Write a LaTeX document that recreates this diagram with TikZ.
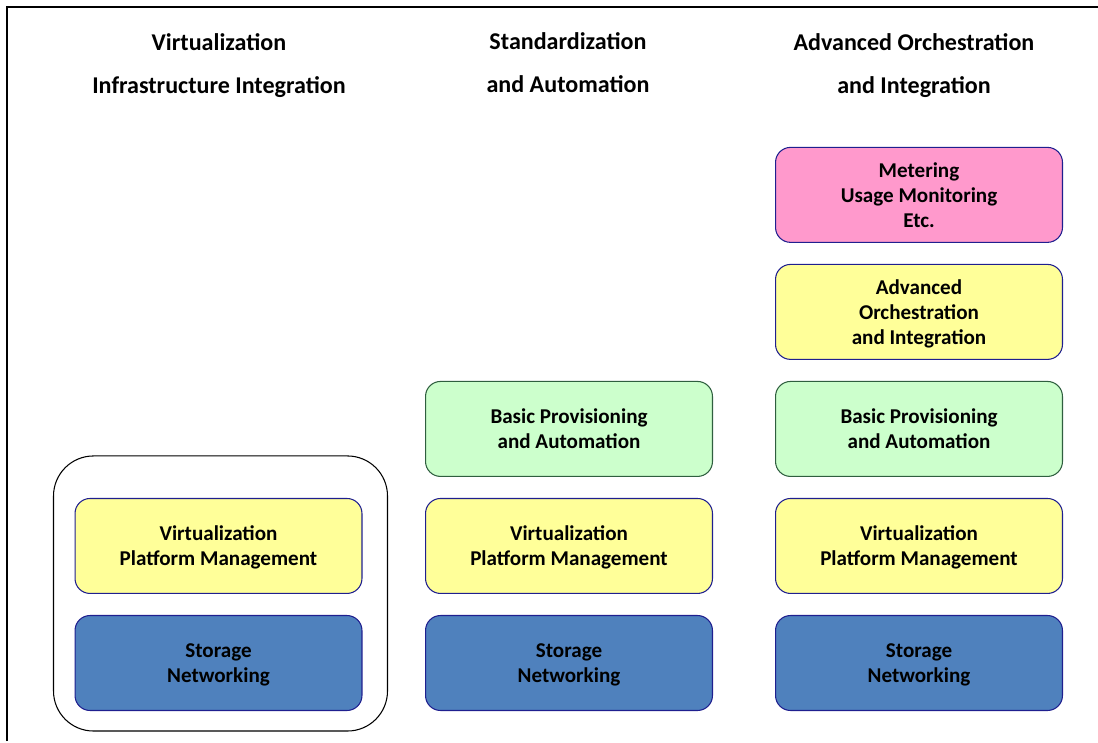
\documentclass[tikz,border=0pt]{standalone}
\usepackage{fontspec}
\setmainfont{Carlito}
\usetikzlibrary{positioning}

\definecolor{boxblue}{HTML}{4F81BD}
\definecolor{boxyellow}{HTML}{FFFF99}
\definecolor{boxgreen}{HTML}{CCFFCC}
\definecolor{boxpink}{HTML}{FF99CC}
\definecolor{edgenavy}{HTML}{1F1F8F}
\definecolor{edgegreen}{HTML}{2F5F3F}

\begin{document}
\begin{tikzpicture}[
        x=0.02cm, y=-0.02cm,
        node distance=0.42cm,
        layer/.style={
        draw=edgenavy, line width=0.6pt, rounded corners=0.3cm,
        minimum width=5.74cm, minimum height=1.9cm, align=center,
        text depth=-1.5pt,
        font=\bfseries\fontsize{12}{14.2}\selectfont
        },
        storage/.style={layer, fill=boxblue},
        platform/.style={layer, fill=boxyellow},
        basic/.style={layer, fill=boxgreen, draw=edgegreen},
        metering/.style={layer, fill=boxpink},
        heading/.style={align=center, font=\bfseries\fontsize{13.7}{24.5}\selectfont}
        ]
        \useasboundingbox (0,0) rectangle (1098,743);
        \draw[line width=0.8pt] (7,741) -- (7,7) -- (1098,7);

        % column headings
        \node[heading] (h1) at (219,66) {Virtualization\\Infrastructure Integration};
        \node[heading] (h2) at (568,63) {Standardization\\and Automation};
        \node[heading] (h3) at (914,66) {Advanced Orchestration\\and Integration};

        % first column
        \node[storage] (s1) at (218.5,663) {Storage\\Networking};
        \node[platform, above=of s1] (v1) {Virtualization\\Platform Management};
        \draw[line width=0.6pt, rounded corners=0.8cm]
            ([shift={(-0.42cm,0.84cm)}]v1.north west) rectangle ([shift={(0.5cm,-0.4cm)}]s1.south east);

        % second column
        \node[storage] (s2) at (569,663) {Storage\\Networking};
        \node[platform, above=of s2] (v2) {Virtualization\\Platform Management};
        \node[basic, above=of v2] (b2) {Basic Provisioning\\ and Automation};

        % third column
        \node[storage] (s3) at (919,663) {Storage\\Networking};
        \node[platform, above=of s3] (v3) {Virtualization\\Platform Management};
        \node[basic, above=of v3] (b3) {Basic Provisioning\\ and Automation};
        \node[platform, above=of b3] (o3) {Advanced\\Orchestration\\and Integration};
        \node[metering, above=of o3] (m3) {Metering\\Usage Monitoring\\Etc.};
    \end{tikzpicture}
\end{document}
